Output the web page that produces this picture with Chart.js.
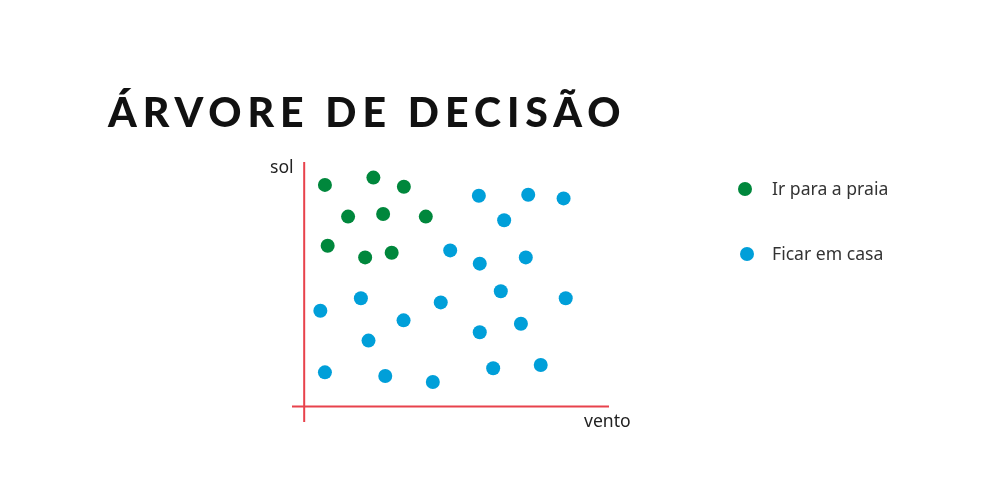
<!DOCTYPE html>
<html><head><meta charset="utf-8">
<script src="https://cdn.jsdelivr.net/npm/chart.js@4"></script>
<style>
html,body{margin:0;padding:0;background:#fff;}
#wrap{position:relative;width:986px;height:502px;overflow:hidden;font-family:"Noto Sans",Lato,sans-serif;}
#c{position:absolute;left:0;top:0;}
.t{position:absolute;white-space:nowrap;color:#222;}
#title{left:108px;top:87px;font-family:Lato,sans-serif;font-size:41px;font-weight:900;letter-spacing:6px;color:#111;}
.lg{position:absolute;font-size:17.6px;color:#333;}
.dot{position:absolute;width:14px;height:14px;border-radius:50%;}
</style></head>
<body><div id="wrap">
<canvas id="c" width="986" height="502"></canvas>
<div id="title" class="t">ÁRVORE DE DECISÃO</div>
<div class="t" style="left:270px;top:154px;font-size:17.6px;">sol</div>
<div class="t" style="left:584px;top:408px;font-size:17.6px;">vento</div>
<div class="dot" style="left:738px;top:182px;background:#00873c"></div>
<div class="lg" style="left:772px;top:176px;">Ir para a praia</div>
<div class="dot" style="left:740px;top:247px;background:#009fd9"></div>
<div class="lg" style="left:772px;top:241px;">Ficar em casa</div>
</div>
<script>
const seriesNames = ["Ir para a praia", "Ficar em casa"];
const praiaX = [0.68, 2.27, 3.27, 1.44, 2.59, 3.99, 0.77, 2.00, 2.87];
const praiaY = [8.52, 8.80, 8.45, 7.30, 7.40, 7.30, 6.18, 5.73, 5.91];
const casaX = [5.73, 7.35, 8.51, 6.56, 4.79, 5.76, 7.27, 6.45, 8.58, 0.53, 1.86, 4.48, 3.26, 2.11, 5.76, 7.11, 0.68, 2.66, 4.22, 6.20, 7.76];
const casaY = [8.10, 8.14, 8.00, 7.16, 6.00, 5.49, 5.73, 4.43, 4.16, 3.68, 4.16, 4.00, 3.31, 2.53, 2.85, 3.18, 1.31, 1.17, 0.94, 1.47, 1.59];
const xTitle = "vento", yTitle = "sol";

const toPts = (xs, ys) => xs.map((x, i) => ({x, y: ys[i]}));

const axesPlugin = {
  id: 'axesLines',
  beforeDatasetsDraw(chart) {
    const {ctx, chartArea: a, scales: {x, y}} = chart;
    const x0 = x.getPixelForValue(0), y0 = y.getPixelForValue(0);
    ctx.save();
    ctx.strokeStyle = '#e8424c';
    ctx.lineWidth = 2;
    ctx.beginPath();
    ctx.moveTo(x0, a.top); ctx.lineTo(x0, a.bottom);
    ctx.moveTo(a.left, y0); ctx.lineTo(a.right, y0);
    ctx.stroke();
    ctx.restore();
  }
};

new Chart(document.getElementById('c'), {
  type: 'scatter',
  data: {
    datasets: [
      {label: seriesNames[0], data: toPts(praiaX, praiaY), backgroundColor: '#00873c', borderColor: '#00873c', pointRadius: 7, pointHoverRadius: 7, borderWidth: 0},
      {label: seriesNames[1], data: toPts(casaX, casaY), backgroundColor: '#009fd9', borderColor: '#009fd9', pointRadius: 7, pointHoverRadius: 7, borderWidth: 0}
    ]
  },
  options: {
    responsive: false,
    animation: false,
    layout: {padding: {left: 292, right: 377, top: 162, bottom: 80}},
    plugins: {legend: {display: false}, tooltip: {enabled: false}},
    scales: {
      x: {type: 'linear', min: -0.4, max: 10, display: false},
      y: {type: 'linear', min: -0.6, max: 9.4, display: false}
    }
  },
  plugins: [axesPlugin]
});
</script>
</body></html>
